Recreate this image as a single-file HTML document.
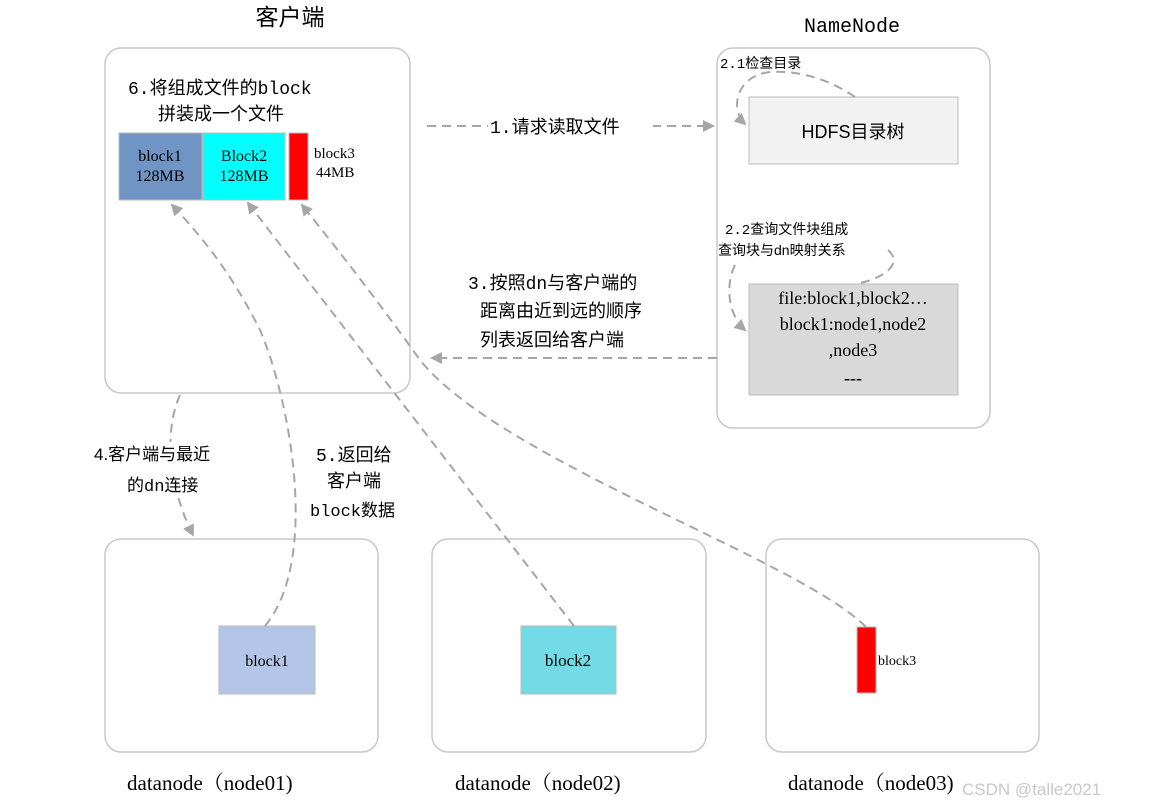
<!DOCTYPE html>
<html><head><meta charset="utf-8"><style>
html,body{margin:0;padding:0;background:#fff;}
svg{display:block;}
text{font-family:"Liberation Sans","Noto Sans CJK SC",sans-serif;fill:#000;}
.m{font-family:"Liberation Mono","Noto Sans CJK SC",monospace;}
.s{font-family:"Liberation Serif","Noto Serif CJK SC",serif;}
.d{fill:none;stroke:#a6a6a6;stroke-width:2;stroke-dasharray:9,6;}
</style></head><body>
<svg width="1154" height="806" viewBox="0 0 1154 806" xmlns="http://www.w3.org/2000/svg">
<defs><marker id="a" markerWidth="12" markerHeight="12" refX="10" refY="6" orient="auto" markerUnits="userSpaceOnUse"><path d="M0,0 L12,6 L0,12 z" fill="#a6a6a6"/></marker></defs>

<text x="290" y="25" font-size="23" text-anchor="middle">客户端</text>
<text x="852" y="32" font-size="20" text-anchor="middle" class="m">NameNode</text>

<rect x="105" y="48" width="305" height="345" rx="16" fill="#fff" stroke="#c8c8c8" stroke-width="1.5"/>
<rect x="717" y="48" width="273" height="380" rx="16" fill="#fff" stroke="#c8c8c8" stroke-width="1.5"/>

<text x="128" y="94" font-size="18" class="m">6.将组成文件的block</text>
<text x="158" y="120" font-size="18">拼装成一个文件</text>

<rect x="119" y="133" width="83" height="67" fill="#7094c4" stroke="#bbb"/>
<rect x="203" y="133" width="82" height="67" fill="#00ffff" stroke="#bbb"/>
<rect x="289" y="133" width="19" height="67" fill="#ff0000" stroke="#bbb"/>
<text x="160" y="161" font-size="16" class="s" text-anchor="middle">block1</text>
<text x="160" y="181" font-size="16" class="s" text-anchor="middle">128MB</text>
<text x="244" y="161" font-size="16" class="s" text-anchor="middle">Block2</text>
<text x="244" y="181" font-size="16" class="s" text-anchor="middle">128MB</text>
<text x="314" y="158" font-size="15" class="s">block3</text>
<text x="316" y="177" font-size="15" class="s">44MB</text>

<rect x="749" y="97" width="209" height="67" fill="#f2f2f2" stroke="#bbb"/>
<text x="853" y="138" font-size="18" text-anchor="middle">HDFS目录树</text>
<rect x="749" y="284" width="209" height="111" fill="#d9d9d9" stroke="#bbb"/>
<text x="853" y="304" font-size="18" class="s" text-anchor="middle">file:block1,block2…</text>
<text x="853" y="330" font-size="18" class="s" text-anchor="middle">block1:node1,node2</text>
<text x="853" y="356" font-size="18" class="s" text-anchor="middle">,node3</text>
<text x="853" y="384" font-size="18" class="s" text-anchor="middle" font-weight="bold">---</text>

<text x="720" y="68" font-size="14" class="m">2.1检查目录</text>
<path class="d" d="M855,97 C830,80 800,70 770,72 C735,76 730,110 745,124" marker-end="url(#a)"/>
<text x="725" y="234" font-size="14" class="m">2.2查询文件块组成</text>
<text x="718" y="255" font-size="14">查询块与dn映射关系</text>
<path class="d" d="M888,250 C905,265 880,280 855,284"/>
<path class="d" d="M735,265 C725,285 728,315 745,330" marker-end="url(#a)"/>

<path class="d" d="M427,126 L713,126" marker-end="url(#a)"/>
<rect x="488" y="114" width="165" height="24" fill="#fff"/>
<text x="490" y="133" font-size="18" class="m">1.请求读取文件</text>

<path class="d" d="M717,358 L432,358" marker-end="url(#a)"/>
<text x="468" y="289" font-size="18" class="m">3.按照dn与客户端的</text>
<text x="480" y="317" font-size="18">距离由近到远的顺序</text>
<text x="480" y="346" font-size="18">列表返回给客户端</text>

<rect x="105" y="539" width="273" height="213" rx="16" fill="#fff" stroke="#c8c8c8" stroke-width="1.5"/>
<rect x="432" y="539" width="274" height="213" rx="16" fill="#fff" stroke="#c8c8c8" stroke-width="1.5"/>
<rect x="766" y="539" width="273" height="213" rx="16" fill="#fff" stroke="#c8c8c8" stroke-width="1.5"/>

<rect x="219" y="626" width="96" height="68" fill="#b4c6e7" stroke="#bbb"/>
<text x="267" y="666" font-size="16" class="s" text-anchor="middle">block1</text>
<rect x="521" y="626" width="95" height="68" fill="#72dbe6" stroke="#bbb"/>
<text x="568" y="666" font-size="17" class="s" text-anchor="middle">block2</text>
<rect x="857" y="627" width="19" height="66" fill="#ff0000" stroke="#bbb"/>
<text x="878" y="665" font-size="14" class="s">block3</text>

<path class="d" d="M265,626 C320,560 290,400 260,330 C230,270 200,235 172,205" marker-end="url(#a)"/>
<path class="d" d="M574,626 L248,203" marker-end="url(#a)"/>
<path class="d" d="M866,627 C800,560 500,460 420,360 C370,290 330,240 302,205" marker-end="url(#a)"/>
<path class="d" d="M180,395 C160,440 175,500 193,535" marker-end="url(#a)"/>

<rect x="92" y="442" width="150" height="55" fill="#fff"/>
<text x="94" y="460" font-size="17">4.客户端与最近</text>
<text x="127" y="491" font-size="17" class="m">的dn连接</text>
<text x="316" y="461" font-size="18" class="m">5.返回给</text>
<text x="327" y="487" font-size="18">客户端</text>
<text x="310" y="516" font-size="17" class="m">block数据</text>

<text x="127" y="790" font-size="21" class="s">datanode（node01)</text>
<text x="455" y="790" font-size="21" class="s">datanode（node02)</text>
<text x="788" y="790" font-size="21" class="s">datanode（node03)</text>
<text x="962" y="795" font-size="17" style="fill:#c8c8c8">CSDN @talle2021</text>
</svg>
</body></html>
